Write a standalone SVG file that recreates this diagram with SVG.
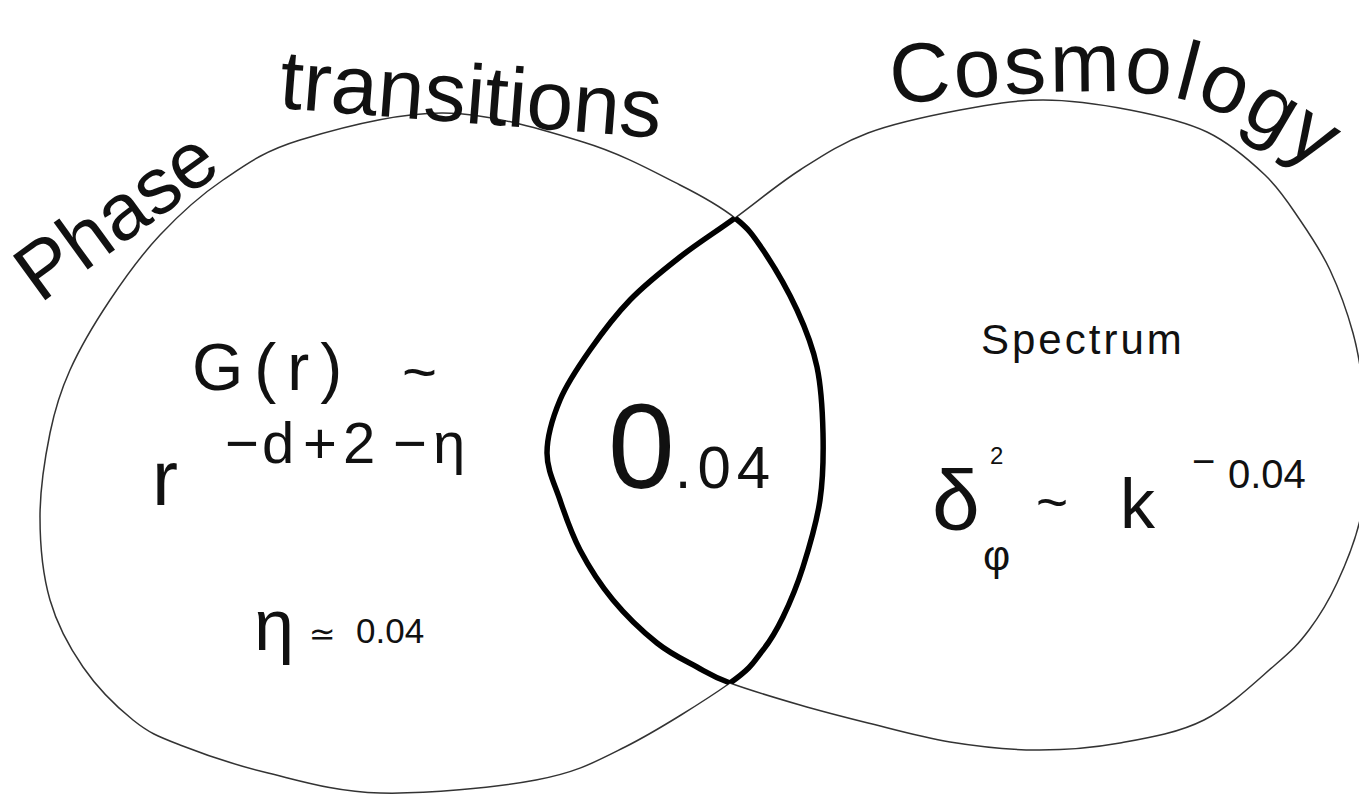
<svg xmlns="http://www.w3.org/2000/svg" xmlns:xlink="http://www.w3.org/1999/xlink" width="1359" height="796" viewBox="0 0 1359 796">
<style>
  .thin { fill: none; stroke: #333; stroke-width: 1.5; }
  .bold { fill: none; stroke: #000; stroke-width: 5.5; stroke-linejoin: round; }
  .hw { font-family: "Liberation Sans", "DejaVu Sans", sans-serif; fill: #111; }
  .title { font-size: 84px; }
</style>
<defs>
  <path id="pathL" d="M40,517 C40,489.2 45,457.5 50,433 S60,392.2 70,370 S95,322.5 110,300 S141.2,255 160,235 S199.7,195.8 223,180 S263.3,151.2 300,140 S395.8,112.7 443,113 S543.5,130 583,142 S654.7,172.3 680,185 S721.2,207.2 735,218 S752.7,234.7 763,250 S788,290.5 797,310 S812.7,346.5 817,367 S822.5,410.8 823,433 S823.3,477.7 820,500 S809.2,547.5 803,567 S789.7,603.2 783,617 S771.8,639 763,650 S753,666.8 730,683 S657.3,730.8 625,747 S576.8,772.3 536,780 S424.7,794.2 380,793 S301.3,781 268,773 S202.5,753.8 180,745 S149.2,733 133,720 S96.8,687 83,667 S57.2,625 50,600 S40,544.8 40,517 Z"/>
  <path id="pathR" d="M735,218 C755,203.5 777.8,184.2 800,170 S841.3,143 868,133 S930.8,115.5 960,110 S1014.7,100 1043,100 S1102.7,104.7 1130,110 S1184.5,121.2 1207,132 S1249.5,160.3 1265,175 S1289.2,204.2 1300,220 S1321.2,251.2 1330,270 S1347.3,312.2 1353,333 S1361.7,374.7 1364,395 S1367.7,434.2 1367,455 S1365,498.7 1360,520 S1345.5,564.7 1337,583 S1319.3,616.3 1309,630 S1292.5,650 1275,665 S1229.8,707 1204,720 S1148,738 1120,743 S1064.3,750.2 1036,750 S978,746.5 950,742 S893,729.2 868,723 S823,711.7 800,705 S747.2,689.3 730,683 S709.2,673.7 697,667 S671,654.2 657,643 S625.8,615.5 613,600 S588.8,566.7 580,550 S565.5,516.2 560,500 S547,469.7 547,453 S552.8,417.2 560,400 S578.3,366.7 590,350 S615,315.5 630,300 S662.5,270.7 680,257 S715,232.5 735,218 Z"/>
  <clipPath id="inL"><use xlink:href="#pathL" href="#pathL"/></clipPath>
  <clipPath id="inR"><use xlink:href="#pathR" href="#pathR"/></clipPath>
  <path id="cosmoPath" d="M892,104 C990,96 1120,82 1185,100 S1290,155 1345,185"/>
</defs>
<rect width="1359" height="796" fill="#fff"/>

<g id="set-phase-transitions">
  <use xlink:href="#pathL" href="#pathL" class="thin"/>
  <text class="hw" font-size="80" x="40" y="304" transform="rotate(-36 40 304)">Phase</text>
  <text class="hw title" x="278" y="108" transform="rotate(4.5 278 108)">transitions</text>
  <g id="correlation">
    <text class="hw" font-size="66" x="192" y="390" letter-spacing="11">G(r)</text>
    <text class="hw" font-size="60" x="402" y="392">~</text>
    <text class="hw" font-size="78" x="152" y="505">r</text>
    <text class="hw" font-size="58" x="225 262 303 343 393 433" y="463">−d+2−η</text>
  </g>
  <g id="eta-value">
    <text class="hw" font-size="72" x="254" y="650">η</text>
    <text class="hw" font-size="32" x="309" y="645">≃</text>
    <text class="hw" font-size="35" x="356" y="643">0.04</text>
  </g>
</g>

<g id="set-cosmology">
  <use xlink:href="#pathR" href="#pathR" class="thin"/>
  <text class="hw title" letter-spacing="3"><textPath xlink:href="#cosmoPath" href="#cosmoPath">Cosmology</textPath></text>
  <text class="hw" font-size="42" x="981" y="354" letter-spacing="3">Spectrum</text>
  <g id="spectrum-formula">
    <text class="hw" font-size="86" x="932" y="530">δ</text>
    <text class="hw" font-size="42" x="983" y="570">φ</text>
    <text class="hw" font-size="24" x="990" y="464">2</text>
    <text class="hw" font-size="55" x="1036" y="521">~</text>
    <text class="hw" font-size="70" x="1120" y="528">k</text>
    <text class="hw" font-size="40" x="1192" y="475">−</text>
    <text class="hw" font-size="40" x="1228" y="488">0.04</text>
  </g>
</g>

<g id="intersection">
  <use xlink:href="#pathL" href="#pathL" class="bold" clip-path="url(#inR)"/>
  <use xlink:href="#pathR" href="#pathR" class="bold" clip-path="url(#inL)"/>
  <text class="hw" y="488"><tspan font-size="120" x="608">0</tspan><tspan font-size="60" letter-spacing="6">.04</tspan></text>
</g>
</svg>
